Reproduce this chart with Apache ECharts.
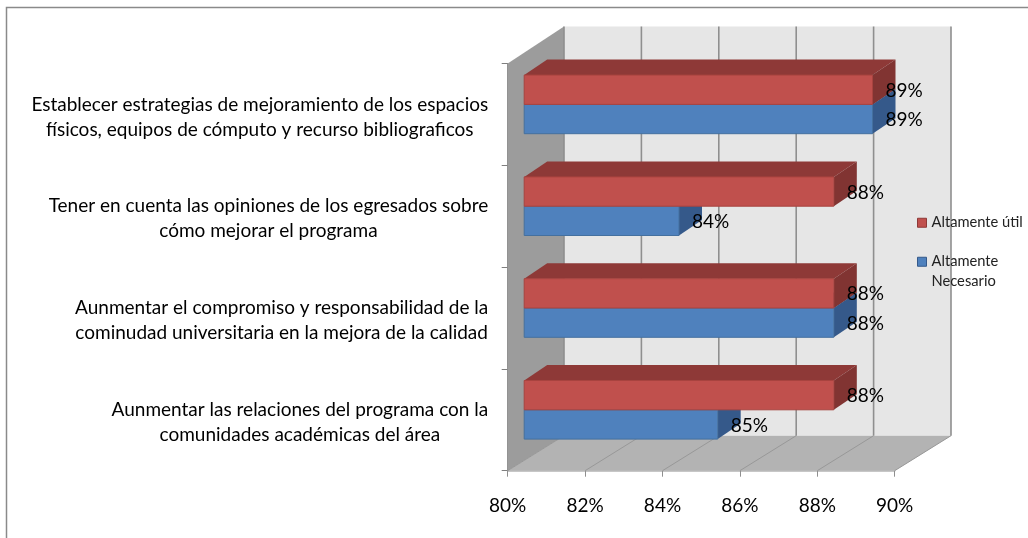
<!DOCTYPE html>
<html><head><meta charset="utf-8">
<style>html,body{margin:0;padding:0;background:#fff}#c{width:1028px;height:538px}</style>
<script src="https://cdn.jsdelivr.net/npm/echarts@6/dist/echarts.min.js"></script>
</head><body><div id="c"></div>
<script>
const categories = [
  "Establecer estrategias de mejoramiento de los espacios\nfísicos, equipos de cómputo y recurso bibliograficos",
  "Tener en cuenta las opiniones de los egresados sobre\ncómo mejorar el programa",
  "Aunmentar el compromiso y responsabilidad de la\ncominudad universitaria en la mejora de la calidad",
  "Aunmentar las relaciones del programa con la\ncomunidades académicas del área"
];
const altamenteUtil = [89, 88, 88, 88];
const altamenteNecesario = [89, 84, 88, 85];
const xTicks = [80, 82, 84, 86, 88, 90];
const FONT = 'Lato';

const chart = echarts.init(document.getElementById('c'), null, {renderer:'canvas'});

const WALL_DX = 56.3, WALL_DY_TOP = -37, WALL_DY_BOT = -35;
const BAR_DX = 16.5, BAR_MID = -10, BAR_H = 29.3, DEPTH_X = 23, DEPTH_Y = -15.5;

function poly(points, fill, stroke, lw, z2){
  return {type:'polygon', shape:{points}, z2: z2||0, silent:true,
    style:{fill, stroke: stroke||null, lineWidth: lw||0}};
}
function line(x1,y1,x2,y2,stroke,lw,z2){
  return {type:'line', shape:{x1,y1,x2,y2}, z2:z2||0, silent:true, style:{stroke, lineWidth:lw, fill:null}};
}
function wallsRender(params, api){
  const v = api.value(0);
  const cs = params.coordSys;
  const x = api.coord([v, 0])[0];
  const yT = cs.y, yB = cs.y + cs.height, xL = cs.x, xR = cs.x + cs.width;
  const children = [];
  if (params.dataIndex === 0) {
    children.push(poly([[xL+WALL_DX,yT+WALL_DY_TOP],[xR+WALL_DX,yT+WALL_DY_TOP],[xR+WALL_DX,yB+WALL_DY_BOT],[xL+WALL_DX,yB+WALL_DY_BOT]],'#e6e6e6',null,0,0));
    children.push(poly([[xL,yT],[xL+WALL_DX,yT+WALL_DY_TOP],[xL+WALL_DX,yB+WALL_DY_BOT],[xL,yB]],'#9c9c9c',null,0,1));
    children.push(poly([[xL,yB],[xL+WALL_DX,yB+WALL_DY_BOT],[xR+WALL_DX,yB+WALL_DY_BOT],[xR,yB]],'#b3b3b3',null,0,1));
  }
  children.push(line(x+WALL_DX,yT+WALL_DY_TOP,x+WALL_DX,yB+WALL_DY_BOT,'#8f8f8f',1.6,2));
  children.push(line(x,yB,x+WALL_DX,yB+WALL_DY_BOT,'#989898',1,2));
  return {type:'group', children};
}
function barRender(front, top, side, edge, slot){
  return function(params, api){
    const val = api.value(0);
    const p0 = api.coord([80, api.value(1)]);
    const p1 = api.coord([val, api.value(1)]);
    const mid = p0[1] + BAR_MID;
    const y0 = slot === 0 ? mid - BAR_H : mid;
    const y1 = y0 + BAR_H;
    const xa = p0[0] + BAR_DX, xb = p1[0] + BAR_DX;
    return {type:'group', children:[
      poly([[xa,y0],[xa+DEPTH_X,y0+DEPTH_Y],[xb+DEPTH_X,y0+DEPTH_Y],[xb,y0]], top, null, 0, 3),
      poly([[xb,y0],[xb+DEPTH_X,y0+DEPTH_Y],[xb+DEPTH_X,y1+DEPTH_Y],[xb,y1]], side, null, 0, 3),
      poly([[xa,y0],[xb,y0],[xb,y1],[xa,y1]], front, edge, 1, 4),
      {type:'text', z2:100, silent:true, style:{
        x: xb + 13, y: (y0+y1)/2 + 1, text: val + '%', fill:'#000',
        font: '19px ' + FONT, textAlign:'left', textVerticalAlign:'middle'
      }}
    ]};
  };
}

chart.setOption({
  animation:false,
  backgroundColor:'#fff',
  textStyle:{fontFamily:FONT},
  graphic:[{type:'rect', z:0, silent:true, shape:{x:6.5,y:7.5,width:1030,height:540},
    style:{fill:null, stroke:'#8a8a8a', lineWidth:1.5}}],
  grid:{left:507.7, top:63.5, width:387, height:407.2, containLabel:false},
  xAxis:{type:'value', min:80, max:90, interval:2,
    axisLine:{show:true, onZero:false, lineStyle:{color:'#b5b5b5', width:1.5}},
    axisTick:{show:true, length:6, lineStyle:{color:'#8f8f8f'}},
    splitLine:{show:false},
    axisLabel:{margin:26, color:'#000', fontFamily:FONT, fontSize:19, formatter:'{value}%'}},
  yAxis:{type:'category', inverse:true, data:categories,
    axisLine:{show:true, lineStyle:{color:'#8f8f8f'}},
    axisTick:{show:true, length:6, alignWithLabel:false, lineStyle:{color:'#7f7f7f'}},
    splitLine:{show:false},
    axisLabel:{margin:19.5, interval:0, align:'right', color:'#000', fontFamily:FONT, fontSize:19, lineHeight:25,
      padding:[5,0,0,0],
      formatter:(s)=>s.split('\n').map(l=>'{c|'+l+'}').join('\n'),
      rich:{c:{align:'center', fontFamily:FONT, fontSize:19, lineHeight:25, color:'#000'}}}},
  legend:{orient:'vertical', left:912, top:208, itemWidth:9, itemHeight:9, itemGap:0, z:20,
    icon:'rect', selectedMode:false,
    textStyle:{fontFamily:FONT, fontSize:14.7, color:'#222', lineHeight:19.5},
    formatter:(n)=>n.indexOf(' Necesario')>=0 ? '\u00a0\n'+n.replace(' Necesario','\nNecesario') : n,
    data:[
      {name:'Altamente útil', itemStyle:{color:'#c0504d', borderColor:'#8e3937', borderWidth:1}},
      {name:'Altamente Necesario', itemStyle:{color:'#4f81bd', borderColor:'#35598a', borderWidth:1}}
    ]},
  series:[
    {type:'custom', name:'walls', silent:true, z:1, clip:false, coordinateSystem:'cartesian2d',
      renderItem:wallsRender, encode:{x:0}, data:xTicks.map(v=>[v,0])},
    {type:'custom', name:'Altamente Necesario', silent:true, z:3, clip:false, coordinateSystem:'cartesian2d',
      itemStyle:{color:'#4f81bd'},
      renderItem:barRender('#4f81bd','#35598a','#35598a','#44709f',1),
      encode:{x:0,y:1}, data:altamenteNecesario.map((v,i)=>[v,i])},
    {type:'custom', name:'Altamente útil', silent:true, z:3, clip:false, coordinateSystem:'cartesian2d',
      itemStyle:{color:'#c0504d'},
      renderItem:barRender('#c0504d','#8e3937','#813432','#a8433f',0),
      encode:{x:0,y:1}, data:altamenteUtil.map((v,i)=>[v,i])}
  ]
});
</script></body></html>
